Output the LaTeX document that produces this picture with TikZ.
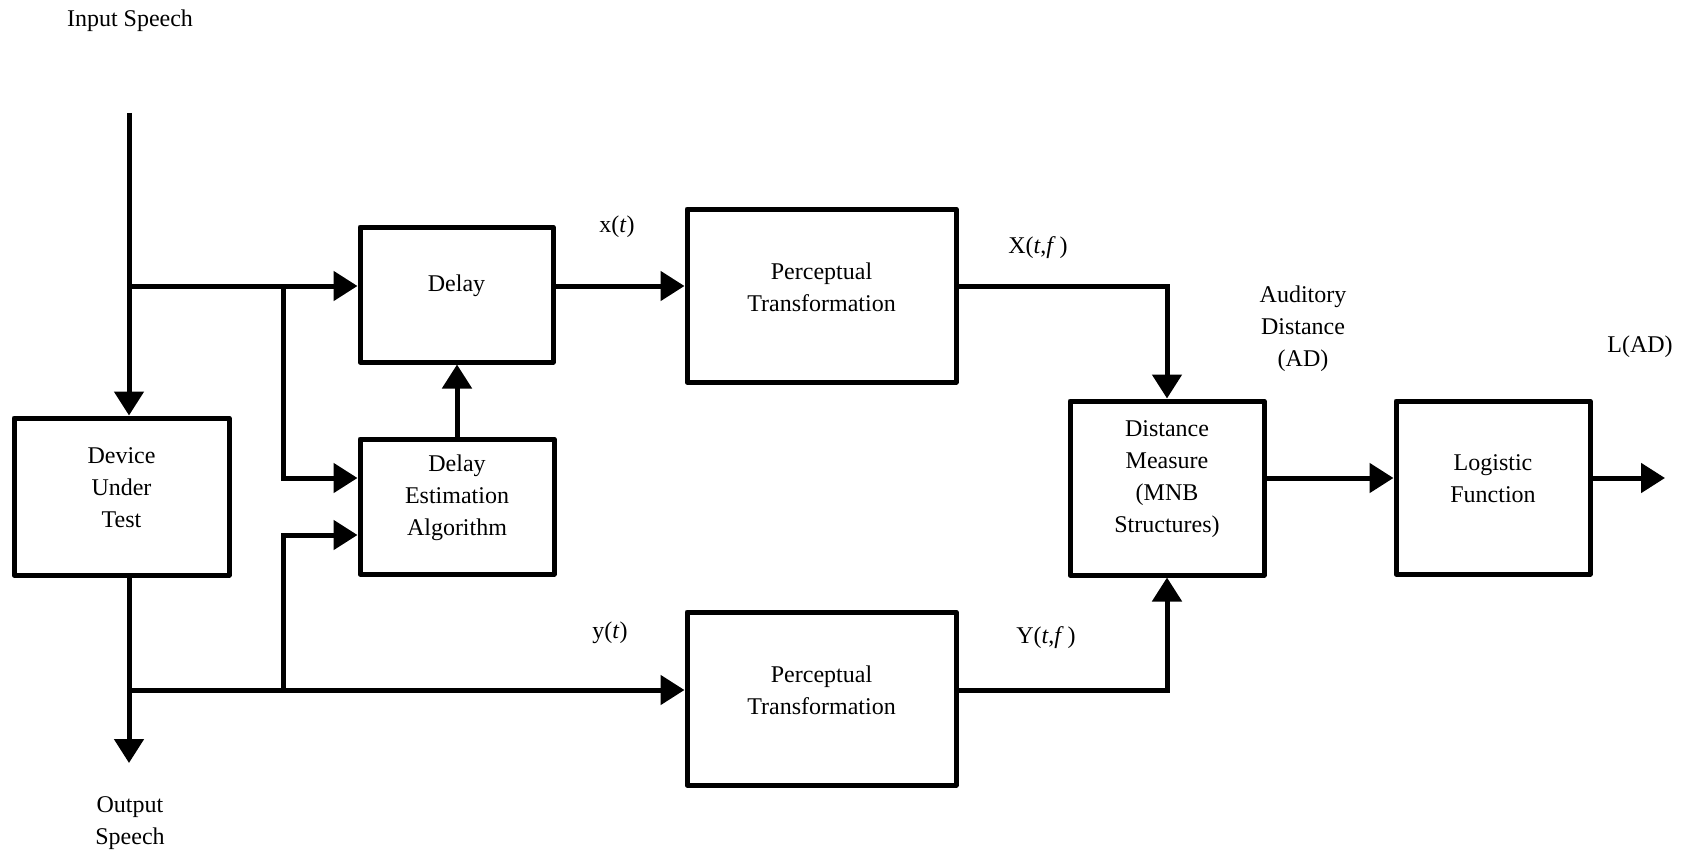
\documentclass[tikz,border=0pt]{standalone}
\usepackage{fontspec}
\setmainfont{Liberation Serif}
\usetikzlibrary{arrows.meta,positioning}
\tikzset{
    blk/.style args={#1 #2}{
        draw, line width=2.5pt, line join=round,
        minimum width=#1*0.5pt, minimum height=#2*0.5pt
    },
    lift/.style={yshift=4.25pt},
    sig/.style={line width=2.5pt},
    sigA/.style={sig, -{Triangle[length=12pt, width=14.5pt]}}
}

\begin{document}
\begin{tikzpicture}[x=0.5pt, y=-0.5pt]
    \tikzstyle{every node}=[font=\fontsize{12}{16}\selectfont, align=center, inner sep=0pt];
    \useasboundingbox (0,0) rectangle (1686,856);
    % blocks
    \node[blk=215 157, label={[lift]center:Device\\Under\\Test}] (dut) at (121.5,496.5) {};
    \node[blk=193 135, label={[lift]center:Delay}] (dly) at (456.5,294.5) {};
    \node[blk=194 135, label={[lift]center:Delay\\Estimation\\Algorithm}] (est) at (457,506.5) {};
    \node[blk=269 173, label={[lift]center:Perceptual\\Transformation}] (pt1) at (821.5,295.5) {};
    \node[blk=269 173, label={[lift]center:Perceptual\\Transformation}] (pt2) at (821.5,698.5) {};
    \node[blk=194 174, label={[lift]center:Distance\\Measure\\(MNB\\Structures)}] (dm) at (1167,488) {};
    \node[blk=194 173, label={[lift]center:Logistic\\Function}] (lf) at (1493,487.5) {};
    % taps and ends
    \coordinate (in) at (129,113);
    \coordinate (j1) at (129,286);
    \coordinate (j2) at (283,286);
    \coordinate (e1) at (283,478);
    \coordinate (e2) at (283,535);
    \coordinate (j3) at (283,690);
    \coordinate (j4) at (129,690);
    \coordinate (out) at (129,763);
    \coordinate (ad) at (1167,478);
    \coordinate (end) at (1665,478);
    % signals
    \draw[sigA] (in) -- (in |- dut.north);
    \draw[sigA] (j1) -- (j1 -| dly.west);
    \draw[sigA] (j2) -- (e1) -- (e1 -| est.west);
    \draw[sigA] (j3) -- (e2) -- (e2 -| est.west);
    \draw[sigA] (est.north) -- (est.north |- dly.south);
    \draw[sigA] (dly.east |- j1) -- (pt1.west |- j1);
    \draw[sigA] (in |- dut.south) -- (out);
    \draw[sigA] (j4) -- (j4 -| pt2.west);
    \draw[sigA] (pt1.east |- j1) -| (dm.north);
    \draw[sigA] (pt2.east |- j4) -| (dm.south);
    \draw[sigA] (dm.east |- ad) -- (lf.west |- ad);
    \draw[sigA] (lf.east |- ad) -- (end);
    % labels
    \node (inp) at (130,21) {Input Speech};
    \node (outp) at (130,823) {Output\\Speech};
    \node (xt) at (617,227) {x(\textit{t})};
    \node (yt) at (610,633) {y(\textit{t})};
    \node (xtf) at (1038,248) {X(\textit{t},\textit{f}\,)};
    \node (ytf) at (1046,638) {Y(\textit{t},\textit{f}\,)};
    \node (adl) at (1303,329) {Auditory\\Distance\\(AD)};
    \node (lad) at (1640,347) {L(AD)};
\end{tikzpicture}
\end{document}
